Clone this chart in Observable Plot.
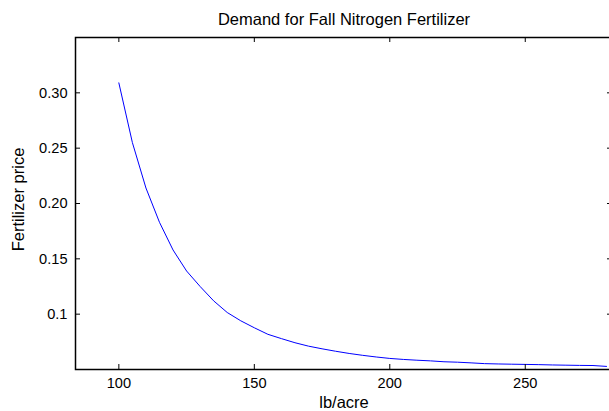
<!DOCTYPE html>
<html>
<head>
<meta charset="utf-8">
<script src="https://cdn.jsdelivr.net/npm/d3@7"></script>
<script src="https://cdn.jsdelivr.net/npm/@observablehq/plot@0.6"></script>
<style>
  html, body { margin: 0; padding: 0; background: #fff; overflow: hidden; }
  svg { display: block; max-width: none !important; }
</style>
</head>
<body>
<div id="chart"></div>
<script>
// Fall nitrogen fertilizer demand: application rate (lb/acre) vs. price
const rates = [100, 105, 110, 115, 120, 125, 130, 135, 140, 145, 150, 155, 160, 165, 170, 175, 180,
  185, 190, 195, 200, 205, 210, 215, 220, 225, 230, 235, 240, 245, 250, 255, 260, 265, 270, 275, 280];
const prices = [0.309, 0.255, 0.214, 0.183, 0.158, 0.139, 0.125, 0.112, 0.1015, 0.094, 0.0877, 0.0818, 0.0779,
  0.0742, 0.0711, 0.0687, 0.0665, 0.0645, 0.0628, 0.0613, 0.0600, 0.0591, 0.0584, 0.0578, 0.0570, 0.0566,
  0.0560, 0.0553, 0.0550, 0.0548, 0.0546, 0.0544, 0.0541, 0.0539, 0.0537, 0.0536, 0.0528];

const xTicks = [100, 150, 200, 250];
const yTicks = [0.1, 0.15, 0.2, 0.25, 0.3];
const yTickLabels = ["0.1", "0.15", "0.20", "0.25", "0.30"];

const titleText = "Demand for Fall Nitrogen Fertilizer";
const xLabel = "lb/acre";
const yLabel = "Fertilizer price";

const data = rates.map((r, i) => ({rate: r, price: prices[i]}));

// the axes box runs slightly past the right edge of the window
const width = 613, height = 411;
const marginTop = 37, marginBottom = 42, marginLeft = 75, marginRight = 1;
const frameW = width - marginLeft - marginRight;
const frameH = height - marginTop - marginBottom;
const tickLen = 5;
const font = "'Liberation Sans', Arial, Helvetica, sans-serif";

const chart = Plot.plot({
  width, height, marginTop, marginBottom, marginLeft, marginRight,
  style: {fontFamily: font, fontSize: "14.6px", color: "#000", background: "#fff"},
  x: {domain: [84, 282.2]},
  y: {domain: [0.05, 0.35]},
  marks: [
    // the curve
    Plot.line(data, {x: "rate", y: "price", stroke: "#0000ff", strokeWidth: 1, clip: true}),
    // inward ticks on all four sides
    Plot.tickX(xTicks, {x: d => d, insetTop: frameH - tickLen, stroke: "#000"}),
    Plot.tickX(xTicks, {x: d => d, insetBottom: frameH - tickLen, stroke: "#000"}),
    Plot.tickY(yTicks, {y: d => d, insetRight: frameW - tickLen, stroke: "#000"}),
    Plot.tickY(yTicks, {y: d => d, insetLeft: frameW - tickLen, stroke: "#000"}),
    // tick labels
    Plot.axisX({ticks: xTicks, tickSize: 0, tickPadding: 8.5, label: null, fontSize: 14.6}),
    Plot.axisY({ticks: yTicks, tickSize: 0, tickPadding: 8, label: null, fontSize: 14.6,
      tickFormat: d => yTickLabels[yTicks.indexOf(d)]}),
    // box
    Plot.frame({stroke: "#000", strokeWidth: 1.5}),
    // title and axis labels
    Plot.text([titleText], {frameAnchor: "top", dy: -18, lineAnchor: "middle", textAnchor: "middle",
      fontSize: 16.5, fill: "#000"}),
    Plot.text([xLabel], {frameAnchor: "bottom", dy: 33, lineAnchor: "middle", textAnchor: "middle",
      fontSize: 16.5, fill: "#000"}),
    Plot.text([yLabel], {frameAnchor: "left", dx: -57, dy: -4, rotate: -90, lineAnchor: "middle",
      textAnchor: "middle", fontSize: 16.5, fill: "#000"})
  ]
});
document.getElementById("chart").append(chart);
</script>
</body>
</html>
